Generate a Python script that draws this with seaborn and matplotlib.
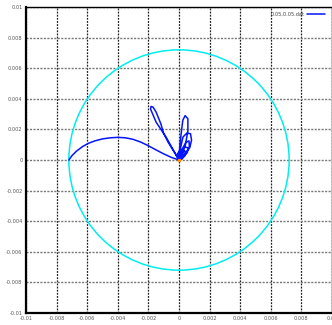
import numpy as np
import pandas as pd
import matplotlib
matplotlib.use("Agg")
import matplotlib.pyplot as plt
from matplotlib.patches import Circle
import seaborn as sns

# ---- data ----
circle_radius = 0.0072

arc_x = [-0.0072, -0.0070, -0.0067, -0.0063, -0.0059, -0.0055, -0.0050, -0.0045, -0.0040,
         -0.0035, -0.0030, -0.0025, -0.0020, -0.0015, -0.0010, -0.0005, 0.0]
arc_y = [0.0, 0.00028, 0.00058, 0.00088, 0.00110, 0.00125, 0.00138, 0.00145, 0.00148,
         0.00145, 0.00135, 0.00117, 0.00093, 0.00066, 0.00040, 0.00017, 0.0]

petal1_x = [0.0, -0.0004, -0.00085, -0.0015, -0.00186, -0.00183, -0.0017, -0.0015,
            -0.00118, -0.00101, -0.00072, -0.0003, 0.0]
petal1_y = [0.0, 0.0007, 0.0015, 0.00248, 0.00333, 0.0035, 0.00346, 0.00314,
            0.00235, 0.00176, 0.00118, 0.0005, 0.0]

petal2_x = [0.0, 0.00005, 0.00015, 0.00025, 0.00040, 0.00058, 0.00058, 0.00042, 0.00020, 0.0]
petal2_y = [0.0, 0.0009, 0.0018, 0.0026, 0.0029, 0.0027, 0.0019, 0.0010, 0.0004, 0.0]

petal3_x = [0.0, 0.0001, 0.00026, 0.0005, 0.00075, 0.00082, 0.0007, 0.0004, 0.00015, 0.0]
petal3_y = [0.0, 0.0008, 0.0015, 0.00175, 0.00172, 0.0013, 0.0008, 0.0004, 0.0001, 0.0]

petal4_x = [0.0, 0.0002, 0.00045, 0.00065, 0.00068, 0.0005, 0.0002, 0.0]
petal4_y = [0.0, 0.0007, 0.00115, 0.00125, 0.0009, 0.0005, 0.00015, 0.0]

petal5_x = [0.0, 0.00015, 0.0004, 0.00058, 0.00055, 0.0003, 0.0]
petal5_y = [0.0, 0.0005, 0.00085, 0.0008, 0.0005, 0.0002, 0.0]

petal6_x = [0.0, 0.0001, 0.0003, 0.00045, 0.0004, 0.0002, 0.0]
petal6_y = [0.0, 0.00035, 0.0006, 0.00055, 0.0003, 0.0001, 0.0]

petal7_x = [0.0, -0.0001, 0.0001, 0.0003, 0.00035, 0.0002, 0.0]
petal7_y = [0.0, 0.0004, 0.0007, 0.0006, 0.0003, 0.00008, 0.0]

petal8_x = [0.0, -0.00005, 0.00012, 0.00025, 0.0002, 0.0]
petal8_y = [0.0, 0.0002, 0.0004, 0.0003, 0.0001, 0.0]

start_point_x = [0.0]
start_point_y = [0.0]

series_label = "0.05,0.05.dat"
ticks = [-0.01, -0.008, -0.006, -0.004, -0.002, 0, 0.002, 0.004, 0.006, 0.008, 0.01]
tick_labels = ["-0.01", "-0.008", "-0.006", "-0.004", "-0.002", "0",
               "0.002", "0.004", "0.006", "0.008", "0.01"]

traj_x = (arc_x + petal1_x + petal2_x + petal3_x + petal4_x + petal5_x
          + petal6_x + petal7_x + petal8_x)
traj_y = (arc_y + petal1_y + petal2_y + petal3_y + petal4_y + petal5_y
          + petal6_y + petal7_y + petal8_y)
df = pd.DataFrame({"x": traj_x, "y": traj_y})

# ---- figure ----
sns.set_style("white")
plt.rcParams["font.family"] = ["DejaVu Sans"]
fig = plt.figure(figsize=(3.32, 3.25), dpi=100)
ax = fig.add_axes([26 / 332, 12 / 325, 306 / 332, 306 / 325])

ax.add_patch(Circle((0, 0), circle_radius, fill=False, edgecolor="#00eeee", lw=1.1, zorder=2))
sns.lineplot(data=df, x="x", y="y", sort=False, estimator=None, color="#0514ff",
             lw=1.1, ax=ax, label=series_label, zorder=3)
ax.plot(start_point_x, start_point_y, "s", color="#ff8c00", ms=1.5, zorder=4)

ax.set_xlim(-0.01, 0.01)
ax.set_ylim(-0.01, 0.01)
ax.set_xticks(ticks)
ax.set_xticklabels(tick_labels)
ax.set_yticks(ticks)
ax.set_yticklabels(tick_labels)
ax.tick_params(labelsize=3.6, colors="#555555", length=0, pad=2.5)
ax.set_xlabel("")
ax.set_ylabel("")
ax.xaxis.grid(True, color="#222222", linestyle=(0, (1.5, 1)), lw=0.9)
ax.yaxis.grid(True, color="#777777", linestyle=(0, (1.5, 1)), lw=1.0)
ax.set_axisbelow(True)
for s in ax.spines.values():
    s.set_color("black")
    s.set_linewidth(1.0)
ax.spines["left"].set_linewidth(1.6)
ax.spines["bottom"].set_linewidth(1.6)

leg = ax.legend(loc="upper right", fontsize=3.6, frameon=False, handlelength=3.6,
                bbox_to_anchor=(0.985, 0.99), borderaxespad=0.0, handletextpad=0.6,
                markerfirst=False)
for t in leg.get_texts():
    t.set_color("#444444")

fig.savefig("out.png", dpi=100)
